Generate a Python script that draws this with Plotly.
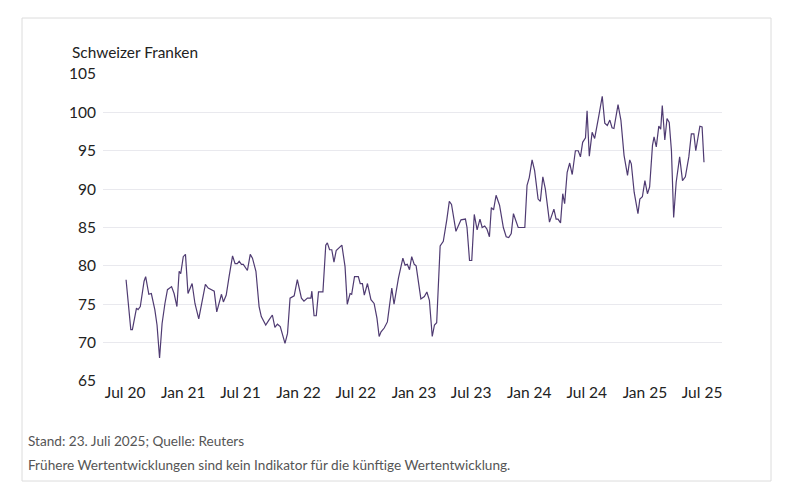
import plotly.graph_objects as go

dates = [
 "2020-07-04","2020-07-19","2020-07-24","2020-08-06","2020-08-11","2020-08-18","2020-08-30","2020-09-04",
 "2020-09-14","2020-09-22","2020-10-03","2020-10-10","2020-10-18","2020-10-26","2020-11-04","2020-11-12",
 "2020-11-25","2020-12-03","2020-12-12","2020-12-19","2020-12-24","2021-01-01","2021-01-08","2021-01-16",
 "2021-01-29","2021-02-07","2021-02-19","2021-03-12","2021-03-21","2021-04-09","2021-04-17","2021-05-02",
 "2021-05-08","2021-05-17","2021-05-26","2021-06-06","2021-06-14","2021-06-21","2021-06-27","2021-07-04",
 "2021-07-10","2021-07-18","2021-07-23","2021-08-01","2021-08-08","2021-08-19","2021-08-29","2021-09-05",
 "2021-09-19","2021-09-30","2021-10-10","2021-10-18","2021-10-26","2021-11-04","2021-11-11","2021-11-19",
 "2021-11-27","2021-12-05","2021-12-18","2021-12-28","2022-01-10","2022-01-18","2022-01-29","2022-02-09",
 "2022-02-12","2022-02-19","2022-02-26","2022-03-05","2022-03-19","2022-03-28","2022-04-02","2022-04-09",
 "2022-04-16","2022-04-23","2022-04-30","2022-05-18","2022-05-28","2022-06-04","2022-06-13","2022-06-18",
 "2022-06-27","2022-07-09","2022-07-15","2022-07-22","2022-07-28","2022-08-07","2022-08-18","2022-08-28",
 "2022-09-06","2022-09-13","2022-09-19","2022-09-29","2022-10-09","2022-10-23","2022-10-30","2022-11-13",
 "2022-11-27","2022-12-04","2022-12-11","2022-12-18","2022-12-25","2023-01-02","2023-01-08","2023-01-23",
 "2023-02-03","2023-02-11","2023-02-19","2023-02-28","2023-03-07","2023-03-14","2023-03-25","2023-04-04",
 "2023-04-15","2023-04-23","2023-04-30","2023-05-14","2023-05-30","2023-06-13","2023-06-18","2023-06-26",
 "2023-07-03","2023-07-11","2023-07-20","2023-07-29","2023-08-05","2023-08-13","2023-08-20","2023-08-28",
 "2023-09-03","2023-09-10","2023-09-18","2023-09-29","2023-10-11","2023-10-20","2023-10-28","2023-11-05",
 "2023-11-12","2023-11-27","2023-12-18","2023-12-25","2024-01-01","2024-01-10","2024-01-18","2024-01-29",
 "2024-02-05","2024-02-13","2024-02-21","2024-03-05","2024-03-19","2024-03-26","2024-04-01","2024-04-09",
 "2024-04-16","2024-04-22","2024-04-30","2024-05-08","2024-05-16","2024-05-26","2024-06-04","2024-06-11",
 "2024-06-18","2024-06-27","2024-07-02","2024-07-09","2024-07-18","2024-07-26","2024-08-08","2024-08-19",
 "2024-08-27","2024-09-04","2024-09-12","2024-09-19","2024-09-25","2024-10-08","2024-10-17","2024-10-27",
 "2024-11-07","2024-11-14","2024-11-19","2024-11-28","2024-12-10","2024-12-16","2024-12-24","2025-01-01",
 "2025-01-09","2025-01-16","2025-01-25","2025-01-30","2025-02-06","2025-02-14","2025-02-20","2025-02-25",
 "2025-03-05","2025-03-12","2025-03-19","2025-03-26","2025-04-02","2025-04-10","2025-04-21","2025-04-30",
 "2025-05-09","2025-05-20","2025-05-28","2025-06-05","2025-06-11","2025-06-24","2025-07-01","2025-07-07",
]

prices = [
 78.2,71.7,71.7,74.5,74.3,74.7,78.0,78.6,
 76.3,76.4,74.3,72.3,68.0,72.5,75.1,76.9,
 77.3,76.4,74.7,79.3,79.0,81.2,81.5,76.4,
 77.7,75.1,73.1,77.6,77.1,76.7,74.0,76.3,
 75.3,76.2,78.6,81.3,80.3,80.3,80.6,80.2,
 80.2,79.7,79.4,81.5,81.0,79.3,74.7,73.4,
 72.3,73.0,73.6,72.0,72.4,72.1,71.0,69.9,
 71.2,75.8,76.1,78.2,75.8,75.4,75.8,75.8,
 76.7,73.5,73.5,76.6,76.6,82.7,83.0,82.1,
 82.1,80.5,82.0,82.7,79.9,75.0,76.4,76.3,
 78.6,78.6,77.7,77.7,76.2,77.7,75.6,75.1,
 73.2,70.8,71.4,71.9,72.7,77.1,75.0,78.4,
 81.0,80.1,80.2,79.5,81.2,80.2,80.0,75.7,
 76.0,76.6,75.5,70.8,72.3,72.6,82.6,83.2,
 86.0,88.4,88.0,84.5,86.0,86.1,85.0,80.7,
 80.7,86.7,84.7,86.1,85.0,85.2,84.8,83.8,
 87.6,87.3,89.2,87.9,85.0,83.8,83.7,84.2,
 86.8,85.0,85.0,90.5,91.5,93.8,92.4,88.7,
 88.4,91.6,90.0,85.7,87.4,86.1,86.1,85.6,
 89.4,88.1,92.2,93.4,91.9,95.0,95.0,94.2,
 96.1,96.7,100.2,94.3,97.4,96.6,99.5,102.1,
 98.6,98.3,99.0,98.0,97.9,101.0,99.0,94.4,
 91.8,93.8,93.3,89.6,86.8,88.7,89.0,91.1,
 89.4,90.3,95.7,96.8,95.5,98.2,97.8,100.9,
 96.4,99.2,98.7,95.0,86.3,90.9,94.2,91.1,
 91.6,94.2,97.2,97.2,95.0,98.2,98.1,93.5,
]

tick_dates = ["2020-07-01","2021-01-01","2021-07-01","2022-01-01","2022-07-01","2023-01-01",
              "2023-07-01","2024-01-01","2024-07-01","2025-01-01","2025-07-01"]
tick_labels = ["Jul 20","Jan 21","Jul 21","Jan 22","Jul 22","Jan 23",
               "Jul 23","Jan 24","Jul 24","Jan 25","Jul 25"]
y_ticks = [65, 70, 75, 80, 85, 90, 95, 100, 105]

title_text = "Schweizer Franken"
source_text = "Stand: 23. Juli 2025; Quelle: Reuters"
disclaimer_text = "Frühere Wertentwicklungen sind kein Indikator für die künftige Wertentwicklung."

FONT = "Lato, 'Open Sans', sans-serif"
W, H = 785, 504
L, R, T, B = 103, 63, 74, 123
pw, ph = W - L - R, H - T - B

def px(x):
    return (x - L) / pw

def py(y):
    return (H - B - y) / ph

fig = go.Figure()
fig.add_trace(go.Scatter(
    x=dates, y=prices, mode="lines",
    line=dict(color="#4f3b72", width=1.2),
    hoverinfo="x+y", showlegend=False,
))

fig.update_layout(
    width=W, height=H,
    margin=dict(l=L, r=R, t=T, b=B),
    paper_bgcolor="white", plot_bgcolor="white",
    font=dict(family=FONT, color="#222222", size=15),
    xaxis=dict(
        type="date",
        range=["2020-04-22", "2025-09-02"],
        tickvals=tick_dates, ticktext=tick_labels,
        showgrid=False, zeroline=False, showline=False,
        ticks="", tickfont=dict(size=15.5, color="#222222"),
        fixedrange=True,
    ),
    yaxis=dict(
        range=[65, 105],
        tickvals=y_ticks,
        showgrid=True, gridcolor="#e9e9ee", gridwidth=1,
        zeroline=False, showline=False, ticks="",
        tickfont=dict(size=15.5, color="#222222"),
        ticklabelstandoff=6,
        fixedrange=True,
    ),
    shapes=[dict(
        type="rect", xref="paper", yref="paper",
        x0=px(22), x1=px(771), y0=py(481), y1=py(18),
        line=dict(color="#dcdcdc", width=1), fillcolor="rgba(0,0,0,0)",
        layer="below",
    )],
    annotations=[
        dict(text=title_text, xref="paper", yref="paper", x=px(70), y=py(52),
             xanchor="left", yanchor="middle", showarrow=False,
             font=dict(size=15.4, color="#222222", family=FONT)),
        dict(text=source_text, xref="paper", yref="paper", x=px(26), y=py(441),
             xanchor="left", yanchor="middle", showarrow=False,
             font=dict(size=13.6, color="#555555", family=FONT)),
        dict(text=disclaimer_text, xref="paper", yref="paper", x=px(26), y=py(465),
             xanchor="left", yanchor="middle", showarrow=False,
             font=dict(size=13.6, color="#555555", family=FONT)),
    ],
)

fig.write_html("out.html", config={"displayModeBar": False},
               post_script="document.body.style.margin='0';")
